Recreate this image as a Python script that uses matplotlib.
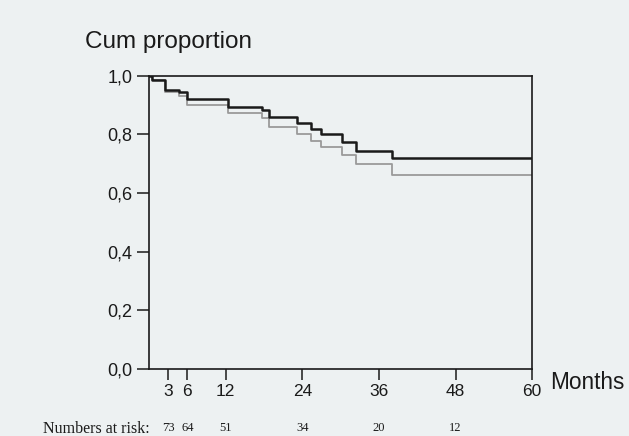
import matplotlib.pyplot as plt

plt.rcParams['font.family'] = ['Liberation Sans', 'DejaVu Sans']

# step times (months) and cumulative proportion surviving
t_black = [0, 0.4, 2.5, 4.75, 6, 12.4, 17.7, 18.8, 23.2, 25.3, 27, 30.2, 32.4, 38, 60.5]
s_black = [1.0, 0.986, 0.953, 0.945, 0.92, 0.895, 0.883, 0.858, 0.84, 0.818, 0.80, 0.775, 0.745, 0.72, 0.72]
t_gray = [0, 0.4, 2.5, 4.75, 6, 12.4, 17.7, 18.8, 23.2, 25.3, 27, 30.2, 32.4, 38, 60.5]
s_gray = [1.0, 0.986, 0.945, 0.932, 0.90, 0.872, 0.855, 0.826, 0.80, 0.776, 0.757, 0.73, 0.70, 0.66, 0.66]

xticks = [3, 6, 12, 24, 36, 48, 60]
yticks = [0.0, 0.2, 0.4, 0.6, 0.8, 1.0]
ylabels = ['0,0', '0,2', '0,4', '0,6', '0,8', '1,0']
at_risk = [73, 64, 51, 34, 20, 12]
risk_x = [3, 6, 12, 24, 36, 48]

bg = '#edf1f2'
fig = plt.figure(figsize=(6.29, 4.36), dpi=100, facecolor=bg)
ax = fig.add_axes([0.237, 0.154, 0.609, 0.672], facecolor=bg)

ax.step(t_gray, s_gray, where='post', color='#9a9a9a', lw=1.3, zorder=2)
ax.step(t_black, s_black, where='post', color='#1a1a1a', lw=1.8, zorder=3)

ax.set_xlim(0, 60)
ax.set_ylim(0, 1.0)
for sp in ax.spines.values():
    sp.set_linewidth(1.2)
    sp.set_color('#1a1a1a')

ax.set_xticks(xticks)
ax.set_xticklabels([str(v) for v in xticks], fontsize=12.5)
ax.set_yticks(yticks)
ax.set_yticklabels(ylabels, fontsize=13)
ax.tick_params(axis='x', length=8, width=1.1, pad=3, colors='#1a1a1a')
ax.tick_params(axis='y', length=9, width=1.1, pad=3, colors='#1a1a1a')

fig.text(0.135, 0.903, 'Cum proportion', fontsize=17.5, color='#1a1a1a', va='center')
fig.text(0.874, 0.122, 'Months', fontsize=16.3, color='#1a1a1a', va='center')

fig.text(0.068, 0.016, 'Numbers at risk:', fontsize=11.5, va='center',
         family=['Liberation Serif', 'DejaVu Serif'], color='#1a1a1a')
for x, n in zip(risk_x, at_risk):
    fx = 0.237 + 0.609 * x / 60
    fig.text(fx, 0.019, str(n), fontsize=9, ha='center', va='center',
             family=['Liberation Serif', 'DejaVu Serif'], color='#1a1a1a')

fig.savefig('out.png', dpi=100, facecolor=bg)
